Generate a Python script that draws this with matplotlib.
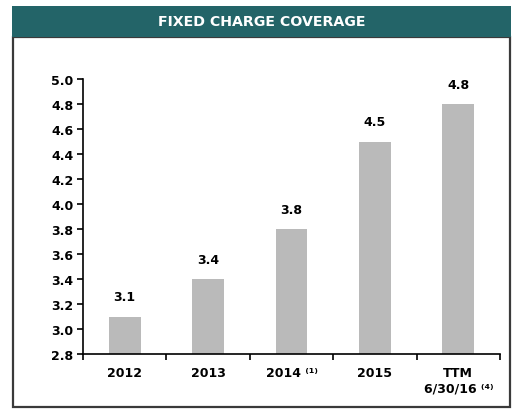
import matplotlib
matplotlib.use("Agg")
import matplotlib.pyplot as plt
from matplotlib.patches import Rectangle

categories = ["2012", "2013", "2014 ⁽¹⁾", "2015", "TTM\n6/30/16 ⁽⁴⁾"]
values = [3.1, 3.4, 3.8, 4.5, 4.8]
value_labels = ["3.1", "3.4", "3.8", "4.5", "4.8"]
yticks = [2.8, 3.0, 3.2, 3.4, 3.6, 3.8, 4.0, 4.2, 4.4, 4.6, 4.8, 5.0]
title = "FIXED CHARGE COVERAGE"

W, H = 515, 410
fig = plt.figure(figsize=(W / 100, H / 100), dpi=100)
fig.patch.set_facecolor("white")

def fx(px):
    return px / W

def fy(py):
    return 1 - py / H

FONT = ["DejaVu Sans"]

# outer box
box = Rectangle((fx(13), fy(408)), fx(510) - fx(13), fy(38) - fy(408),
                transform=fig.transFigure, fill=False, edgecolor="#3a3a3a",
                linewidth=1.6, zorder=0)
fig.patches.append(box)
# header
hdr = Rectangle((fx(12), fy(38)), fx(511) - fx(12), fy(7) - fy(38),
                transform=fig.transFigure, facecolor="#236468",
                edgecolor="none", zorder=1)
fig.patches.append(hdr)
fig.text(fx(262), fy(22.5), title, color="white", fontsize=10.2,
         fontweight="bold", family=FONT, ha="center", va="center")

ax = fig.add_axes([fx(83), fy(355), fx(500) - fx(83), fy(80) - fy(355)])
x = list(range(len(categories)))
ax.bar(x, values, width=0.38, color="#bababa", zorder=2)
ax.set_xlim(-0.5, len(categories) - 0.5)
ax.set_ylim(2.8, 5.0)
ax.set_yticks(yticks)
ax.set_yticklabels([f"{v:.1f}" for v in yticks])

ax.set_xticks(x)
ax.set_xticklabels(categories, linespacing=1.25)
ax.set_xticks([i - 0.5 for i in range(len(categories) + 1)], minor=True)
ax.tick_params(axis="x", which="major", length=0, pad=9)
ax.tick_params(axis="x", which="minor", length=4, width=1.2, direction="out")
ax.tick_params(axis="y", length=4, width=1.2, direction="out", pad=3)

for lbl in ax.get_xticklabels() + ax.get_yticklabels():
    lbl.set_family(FONT)
    lbl.set_fontweight("bold")
    lbl.set_fontsize(9)
for lbl in ax.get_xticklabels():
    lbl.set_va("top")

for xi, v, t in zip(x, values, value_labels):
    ax.annotate(t, (xi, v), xytext=(0, 9.5), textcoords="offset points",
                ha="center", va="bottom", fontsize=9, fontweight="bold",
                family=FONT)

for side in ["top", "right"]:
    ax.spines[side].set_visible(False)
for side in ["left", "bottom"]:
    ax.spines[side].set_linewidth(1.2)
    ax.spines[side].set_color("black")

fig.savefig("out.png", dpi=100)
